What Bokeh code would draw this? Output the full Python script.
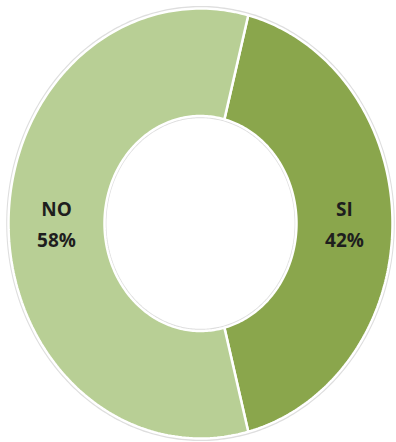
import numpy as np
from bokeh.plotting import figure
from bokeh.models import Range1d, ColumnDataSource
from bokeh.core.properties import value
from bokeh.embed import file_html
from bokeh.resources import INLINE

categories = ["SI", "NO"]
shares = [42, 58]
colors = ["#8AA64C", "#B8CF95"]

W, H = 396, 442
cx, cy = 200, 223
rx, ry = 192, 215
r_in, r_out = 0.5, 1.0

p = figure(width=W, height=H, output_backend="svg", toolbar_location=None,
           x_range=Range1d(-cx / rx, (W - cx) / rx),
           y_range=Range1d(-(H - cy) / ry, cy / ry),
           min_border=0)
p.axis.visible = False
p.grid.visible = False
p.outline_line_color = None
p.background_fill_color = "white"

fr = np.array(shares, dtype=float) / sum(shares)
start = -fr[0] * np.pi  # SI centered on the right
xs, ys, lx, ly = [], [], [], []
a0 = start
for f in fr:
    a1 = a0 + f * 2 * np.pi
    t = np.linspace(a0, a1, 200)
    xo = r_out * np.cos(t); yo = r_out * np.sin(t)
    xi = r_in * np.cos(t[::-1]); yi = r_in * np.sin(t[::-1])
    xs.append(list(np.concatenate([xo, xi])))
    ys.append(list(np.concatenate([yo, yi])))
    m = (a0 + a1) / 2
    lx.append(0.75 * np.cos(m)); ly.append(0.75 * np.sin(m))
    a0 = a1

# faint shadow ring round the outside, white hole inside
t = np.linspace(0, 2 * np.pi, 400)
p.patch(list(1.012 * np.cos(t)), list(1.012 * np.sin(t)), fill_color="#dedede", line_color=None)
p.patch(list(0.49 * np.cos(t)), list(0.49 * np.sin(t)), fill_color="white", line_color=None)

src = ColumnDataSource(dict(xs=xs, ys=ys, color=colors))
p.patches("xs", "ys", source=src, fill_color="color", line_color="white", line_width=2.5)

pct = [f"{s}%" for s in shares]
lsrc = ColumnDataSource(dict(x=lx, y=ly, name=categories, pct=pct))
p.text("x", "y", text="name", source=lsrc, text_align="center", text_baseline="middle",
       y_offset=-15, text_font=value("Open Sans"), text_font_style="bold",
       text_font_size="19px", text_color="#1e1e1e")
p.text("x", "y", text="pct", source=lsrc, text_align="center", text_baseline="middle",
       y_offset=16, text_font=value("Open Sans"), text_font_style="bold",
       text_font_size="19px", text_color="#1e1e1e")

open("out.html", "w").write(file_html(p, INLINE))
